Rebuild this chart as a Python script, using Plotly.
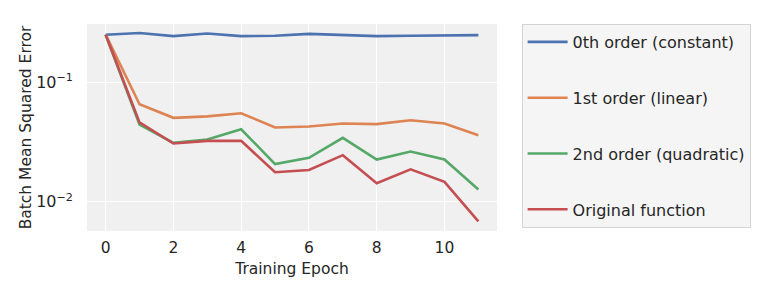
import plotly.graph_objects as go

epochs = list(range(12))
names = ["0th order (constant)", "1st order (linear)", "2nd order (quadratic)", "Original function"]
constant = [0.252, 0.260, 0.245, 0.258, 0.245, 0.247, 0.256, 0.251, 0.245, 0.247, 0.250, 0.250]
linear = [0.252, 0.0658, 0.0506, 0.0520, 0.0553, 0.0420, 0.0428, 0.0454, 0.0448, 0.0483, 0.0454, 0.0362]
quadratic = [0.252, 0.0445, 0.0312, 0.0333, 0.0406, 0.0207, 0.0234, 0.0344, 0.0226, 0.0264, 0.0226, 0.0127]
original = [0.252, 0.0463, 0.0308, 0.0324, 0.0324, 0.0177, 0.0185, 0.0246, 0.0143, 0.0187, 0.0147, 0.00686]
colors = ["#4c72b0", "#dd8452", "#55a868", "#c44e52"]
xticks = [0, 2, 4, 6, 8, 10]
yticks = [0.01, 0.1]
yticktext = ["10<sup>−2</sup>", "10<sup>−1</sup>"]

fig = go.Figure()
for i, (name, vals) in enumerate(zip(names, [constant, linear, quadratic, original])):
    fig.add_trace(go.Scatter(x=epochs, y=vals, mode="lines", name=name,
                             legendgroup=f"g{i}",
                             line=dict(color=colors[i], width=2.6)))

font = "DejaVu Sans, sans-serif"
# page body has an 8px margin, so the figure is sized to fill the rest of the window
fig.update_layout(
    width=753, height=288,
    margin=dict(l=79, r=264, t=16, b=65, autoexpand=False),
    paper_bgcolor="white",
    plot_bgcolor="#f0f0f0",
    font=dict(family=font, size=15, color="#262626"),
    showlegend=True,
    legend=dict(x=1.06, y=1.0, xanchor="left", yanchor="top",
                bgcolor="#f5f5f5", bordercolor="#d4d4d4", borderwidth=1,
                font=dict(size=16, color="#262626"), itemwidth=40,
                traceorder="grouped", tracegroupgap=32),
    xaxis=dict(range=[-0.55, 11.55], tickvals=xticks, showgrid=True, automargin=False,
               gridcolor="white", gridwidth=1.3, zeroline=False, showline=False,
               ticks="", ticklabelstandoff=5, tickfont=dict(size=15.5),
               title=dict(text="Training Epoch", font=dict(size=15.5), standoff=7)),
    yaxis=dict(type="log", range=[-2.245, -0.509], tickvals=yticks, ticktext=yticktext,
               automargin=False,
               showgrid=True, gridcolor="white", gridwidth=1.3, zeroline=False,
               showline=False, ticks="", ticklabelstandoff=13, tickfont=dict(size=16),
               title=dict(text="Batch Mean Squared Error", font=dict(size=15.5), standoff=0)),
)

fig.write_html("out.html")
